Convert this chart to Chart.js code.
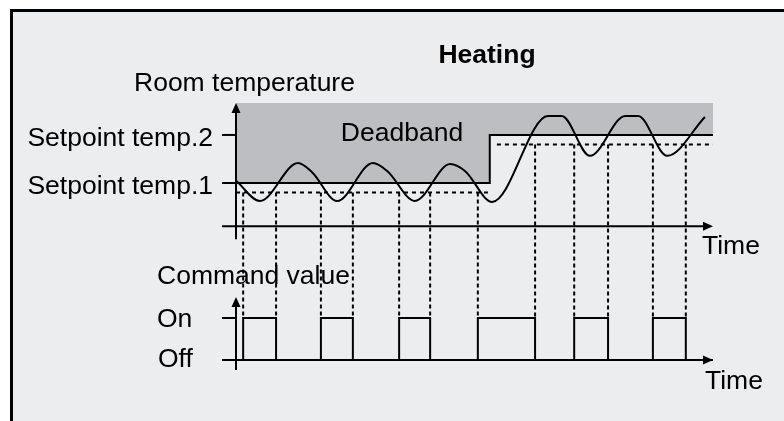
<!DOCTYPE html>
<html>
<head>
<meta charset="utf-8">
<script src="https://cdn.jsdelivr.net/npm/chart.js@4/dist/chart.umd.min.js"></script>
<style>
html,body{margin:0;padding:0;background:#fff;}
#frame{position:absolute;left:10px;top:9px;width:820px;height:460px;border:3px solid #000;background:#ecedef;}
#c{position:absolute;left:0;top:0;}
</style>
</head>
<body>
<div id="frame"></div>
<canvas id="c" width="784" height="421"></canvas>
<script>
// room temperature over time (time units, degC)
const tempTime  = [0, 5.0, 13.0, 15.9, 21.2, 28.7, 31.7, 37.5, 44.9, 48.0, 53.7, 65.4, 68.3, 74.2, 81.6, 84.3, 90.4, 98.3]
const tempValue = [20.1, 19.25, 20.83, 20.46, 19.25, 20.83, 20.5, 19.25, 20.79, 20.5, 19.21, 22.79, 22.79, 21.13, 22.79, 22.79, 21.13, 22.75]

// setpoint 1 -> setpoint 2 step
const spTime = [0, 53.2, 100]
const spTemp = [20, 22, 22]

// switch-on thresholds (setpoint minus hysteresis)
const hystTime = [0, 53.2, 54.7, 100]
const hystTemp = [19.6, 19.6, 21.6, 21.6]

// heating command switching times
const onTimes  = [1.5, 17.8, 34.2, 50.7, 70.9, 87.4]
const offTimes = [8.4, 24.5, 40.7, 62.7, 78.0, 94.3]

const spLabels  = ["Setpoint temp.1", "Setpoint temp.2"]
const cmdLabels = ["Off", "On"]
const axisTemp = 18.2   // temperature where the time axis sits

const FONT = '"Liberation Sans", Arial, sans-serif'

const tempData = tempTime.map((t,i)=>({x:t,y:tempValue[i]}))
const spData = spTime.map((t,i)=>({x:t,y:spTemp[i]}))
const hystData = [
  {x:hystTime[0],y:hystTemp[0]},{x:hystTime[1],y:hystTemp[1]},
  {x:hystTime[1],y:null},
  {x:hystTime[2],y:hystTemp[2]},{x:hystTime[3],y:hystTemp[3]}
]
let cmdData=[{x:0,y:0}]
onTimes.forEach((t,i)=>{
  cmdData.push({x:t,y:1})
  cmdData.push({x:offTimes[i],y:0})
})
cmdData.push({x:100,y:0})

function threshold(t){
  return t < spTime[1] ? hystTemp[0] : hystTemp[2]
}

function arrow(ctx,x,y,dir){
  ctx.beginPath()
  if(dir=="up"){
    ctx.moveTo(x,y); ctx.lineTo(x-4.5,y+10); ctx.lineTo(x+4.5,y+10)
  }else{
    ctx.moveTo(x,y); ctx.lineTo(x-10,y-4.5); ctx.lineTo(x-10,y+4.5)
  }
  ctx.closePath()
  ctx.fill()
}

function line(ctx,x1,y1,x2,y2){
  ctx.beginPath()
  ctx.moveTo(x1,y1)
  ctx.lineTo(x2,y2)
  ctx.stroke()
}

const diagram = {
  id:"diagram",
  afterDatasetsDraw(chart){
    const {ctx} = chart
    const {x,y,cmd} = chart.scales
    const x0 = x.getPixelForValue(0)
    const xEnd = x.getPixelForValue(100)
    const yAxis = y.getPixelForValue(axisTemp)
    const yOff = cmd.getPixelForValue(0)
    const yOn = cmd.getPixelForValue(1)

    ctx.save()
    ctx.fillStyle="#000"
    ctx.strokeStyle="#000"

    // texts
    ctx.font="bold 26.5px "+FONT
    ctx.textAlign="center"
    ctx.fillText("Heating",487,63)
    ctx.font="26.5px "+FONT
    ctx.fillText("Deadband",402,141)
    ctx.textAlign="left"
    ctx.fillText("Room temperature",134,91)
    ctx.fillText("Command value",157,284)
    ctx.fillText("Time",702,254)
    ctx.fillText("Time",705,389)
    ctx.fillText(cmdLabels[1],157,yOn+9)
    ctx.fillText(cmdLabels[0],158,yOff+7)
    ctx.textAlign="right"
    ctx.fillText(spLabels[0],x0-23,y.getPixelForValue(spTemp[0])+11)
    ctx.fillText(spLabels[1],x0-23,y.getPixelForValue(spTemp[2])+11)

    // switching instants, from threshold down to the command level
    ctx.lineWidth=2
    ctx.setLineDash([4,3])
    onTimes.concat(offTimes).forEach(t=>{
      const px=x.getPixelForValue(t)
      line(ctx,px,y.getPixelForValue(threshold(t)),px,yOn)
    })
    ctx.setLineDash([])

    // axes
    ctx.lineWidth=2
    line(ctx,x0,chart.chartArea.top+4,x0,yAxis+13)
    line(ctx,x0-14,yAxis,xEnd-4,yAxis)
    line(ctx,x0,cmd.getPixelForValue(1.5)+4,x0,yOff+10)
    line(ctx,x0-14,yOff,xEnd-4,yOff)
    arrow(ctx,x0,chart.chartArea.top,"up")
    arrow(ctx,xEnd,yAxis,"right")
    arrow(ctx,x0,cmd.getPixelForValue(1.5),"up")
    arrow(ctx,xEnd,yOff,"right")

    // ticks
    line(ctx,x0-14,y.getPixelForValue(spTemp[0]),x0,y.getPixelForValue(spTemp[0]))
    line(ctx,x0-14,y.getPixelForValue(spTemp[2]),x0,y.getPixelForValue(spTemp[2]))
    line(ctx,x0-14,yOn,x0,yOn)

    ctx.restore()
  }
}

new Chart(document.getElementById("c"),{
  type:"line",
  data:{
    datasets:[
      {
        data:tempData,
        borderColor:"#000",
        borderWidth:2,
        cubicInterpolationMode:"monotone",
        tension:0.4,
        pointRadius:0,
        fill:false,
        order:0,
        clip:6
      },
      {
        data:hystData,
        borderColor:"#000",
        borderWidth:2,
        borderDash:[4,4],
        pointRadius:0,
        fill:false,
        order:1,
        clip:6
      },
      {
        data:spData,
        stepped:"before",
        borderColor:"#000",
        borderWidth:2,
        pointRadius:0,
        fill:"end",
        backgroundColor:"#bdbec2",
        order:2,
        clip:6
      },
      {
        data:cmdData,
        yAxisID:"cmd",
        stepped:"before",
        borderColor:"#000",
        borderWidth:2,
        pointRadius:0,
        fill:false,
        order:1,
        clip:6
      }
    ]
  },
  options:{
    responsive:false,
    animation:false,
    devicePixelRatio:1,
    layout:{padding:{left:236,right:71,top:103,bottom:61}},
    scales:{
      x:{type:"linear",min:0,max:100,display:false},
      y:{type:"linear",min:12.63,max:23.33,display:false},
      cmd:{type:"linear",position:"right",min:0,max:6.12,display:false}
    },
    plugins:{legend:{display:false},tooltip:{enabled:false}}
  },
  plugins:[diagram]
})
</script>
</body>
</html>
